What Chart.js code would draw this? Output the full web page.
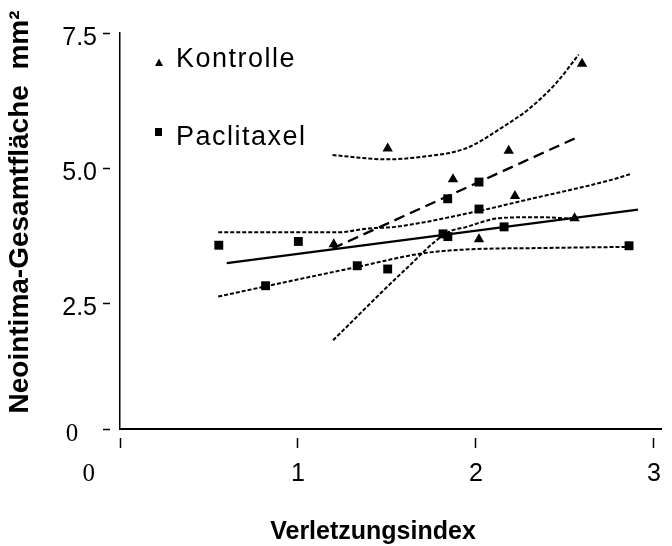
<!DOCTYPE html>
<html>
<head>
<meta charset="utf-8">
<script src="https://cdn.jsdelivr.net/npm/chart.js@4/dist/chart.umd.min.js"></script>
<style>
  html, body { margin: 0; padding: 0; background: #ffffff; }
  #wrap { width: 672px; height: 546px; }
</style>
</head>
<body>
<div id="wrap"><canvas id="c" width="672" height="546"></canvas></div>
<script>
// ---- Data ----
const seriesNames = ['Kontrolle', 'Paclitaxel'];
const xAxisTitle = 'Verletzungsindex';
const yAxisTitle = 'Neointima-Gesamtfläche  mm²';

const xTickValues = [0, 1, 2, 3];
const xTickLabels = ['0', '1', '2', '3'];
const yTickValues = [0, 2.5, 5, 7.5];
const yTickLabels = ['0', '2.5', '5.0', '7.5'];

// Kontrolle (triangles)
const kontrolleX = [1.201, 1.504, 1.871, 2.017, 2.184, 2.219, 2.554, 2.596];
const kontrolleY = [3.59, 5.36, 4.79, 3.68, 5.32, 4.48, 4.07, 6.93];

// Paclitaxel (squares)
const paclitaxelX = [0.555, 0.818, 1.002, 1.333, 1.504, 1.815, 1.842, 1.841, 2.017, 2.017, 2.158, 2.860];
const paclitaxelY = [3.57, 2.82, 3.64, 3.19, 3.13, 3.78, 3.73, 4.43, 4.74, 4.24, 3.91, 3.56];

// Regression lines
const kontrolleFitX = [1.194, 2.577];
const kontrolleFitY = [3.51, 5.58];
const paclitaxelFitX = [0.60, 2.91];
const paclitaxelFitY = [3.24, 4.23];

// Confidence bands
const kontrolleUpperX = [1.194, 1.50, 1.70, 1.94, 2.17, 2.30, 2.45, 2.577];
const kontrolleUpperY = [5.24, 5.16, 5.21, 5.36, 5.80, 6.10, 6.57, 7.10];
const kontrolleLowerX = [1.197, 1.60, 1.837, 1.947, 2.13, 2.34, 2.55];
const kontrolleLowerY = [1.81, 3.11, 3.80, 3.91, 4.07, 4.09, 4.06];

const paclitaxelUpperX = [0.552, 1.23, 1.39, 1.544, 2.01, 2.27, 2.76, 2.87];
const paclitaxelUpperY = [3.81, 3.81, 3.88, 3.91, 4.20, 4.40, 4.78, 4.89];
const paclitaxelLowerX = [0.552, 0.82, 1.335, 1.70, 1.94, 2.41, 2.86];
const paclitaxelLowerY = [2.62, 2.81, 3.17, 3.42, 3.49, 3.52, 3.54];

// ---- Helpers ----
const X_MIN = 0, X_MAX = 3.045;
const Y_MIN = 0.167, Y_MAX = 7.5;   // broken axis: "0" label sits at the axis line
const pts = (xs, ys) => xs.map((x, i) => ({ x: x, y: ys[i] }));
const SANS = '"Liberation Sans", Arial, sans-serif';
const SERIF = '"Liberation Serif", "Times New Roman", serif';

function lineDs(xs, ys, dash, width, smooth) {
  return {
    type: 'scatter',
    data: pts(xs, ys),
    showLine: true,
    borderColor: '#000',
    backgroundColor: '#000',
    borderWidth: width,
    borderDash: dash,
    pointRadius: 0,
    pointHoverRadius: 0,
    tension: smooth ? 0.4 : 0,
    cubicInterpolationMode: smooth ? 'monotone' : 'default',
    fill: false
  };
}

const overlayPlugin = {
  id: 'overlay',
  afterDraw(chart) {
    const ctx = chart.ctx;
    ctx.save();
    ctx.fillStyle = '#000';
    // legend inside plot
    ctx.font = '27px ' + SANS;
    ctx.textBaseline = 'alphabetic';
    ctx.textAlign = 'left';
    try { ctx.letterSpacing = '1.5px'; } catch (e) {}
    ctx.fillText(seriesNames[0], 176, 67);
    ctx.fillText(seriesNames[1], 176, 145);
    try { ctx.letterSpacing = '0px'; } catch (e) {}
    // triangle marker
    ctx.beginPath();
    ctx.moveTo(159, 58.5);
    ctx.lineTo(163, 66);
    ctx.lineTo(155, 66);
    ctx.closePath();
    ctx.fill();
    // square marker
    ctx.fillRect(155, 128, 7, 8);

    // y axis title
    ctx.save();
    ctx.translate(28, 212);
    ctx.rotate(-Math.PI / 2);
    ctx.font = 'bold 28px ' + SANS;
    ctx.textAlign = 'center';
    ctx.textBaseline = 'alphabetic';
    ctx.fillText(yAxisTitle, 0, 0);
    ctx.restore();

    // x axis title
    ctx.font = 'bold 25px ' + SANS;
    ctx.textAlign = 'center';
    ctx.textBaseline = 'alphabetic';
    ctx.fillText(xAxisTitle, 373, 539);
    ctx.restore();
  }
};

const chart = new Chart(document.getElementById('c'), {
  type: 'scatter',
  data: {
    datasets: [
      {
        label: seriesNames[0],
        data: pts(kontrolleX, kontrolleY),
        pointStyle: 'triangle',
        pointRadius: 6,
        pointHoverRadius: 6,
        backgroundColor: '#000',
        borderColor: '#000',
        borderWidth: 0
      },
      {
        label: seriesNames[1],
        data: pts(paclitaxelX, paclitaxelY),
        pointStyle: 'rect',
        pointRadius: 6.3,
        pointHoverRadius: 6.3,
        backgroundColor: '#000',
        borderColor: '#000',
        borderWidth: 0
      },
      lineDs(paclitaxelFitX, paclitaxelFitY, [], 2.3, false),
      lineDs(kontrolleFitX, kontrolleFitY, [11, 6], 2.3, false),
      lineDs(kontrolleUpperX, kontrolleUpperY, [4, 2], 2, true),
      lineDs(kontrolleLowerX, kontrolleLowerY, [4, 2], 2, true),
      lineDs(paclitaxelUpperX, paclitaxelUpperY, [4, 2], 2, true),
      lineDs(paclitaxelLowerX, paclitaxelLowerY, [4, 2], 2, true)
    ]
  },
  options: {
    responsive: false,
    animation: false,
    events: [],
    layout: { padding: { top: 33, left: 0, right: 0, bottom: 0 } },
    plugins: {
      legend: { display: false },
      tooltip: { enabled: false },
      title: { display: false }
    },
    scales: {
      x: {
        type: 'linear',
        position: 'bottom',
        min: X_MIN,
        max: X_MAX,
        afterBuildTicks(scale) {
          scale.ticks = xTickValues.map(v => ({ value: v }));
        },
        afterFit(scale) { scale.height = 117; },
        ticks: {
          autoSkip: false,
          maxRotation: 0,
          padding: 11,
          color: '#000',
          font: (c) => (c.tick && c.tick.value === 0)
            ? { family: SERIF, size: 25 }
            : { family: SANS, size: 25 },
          callback: (v, i) => (i === 0 ? xTickLabels[i] + '          ' : xTickLabels[i])
        },
        border: { display: true, color: '#000', width: 2 },
        grid: {
          display: true,
          drawOnChartArea: false,
          drawTicks: true,
          tickLength: 19,
          tickColor: '#000',
          tickWidth: 1.5,
          tickBorderDash: [11, 8],
          tickBorderDashOffset: 11
        },
        title: { display: false }
      },
      y: {
        type: 'linear',
        position: 'left',
        min: Y_MIN,
        max: Y_MAX,
        afterBuildTicks(scale) {
          scale.ticks = yTickValues.map(v => ({ value: Math.max(v, Y_MIN) }));
        },
        afterFit(scale) { scale.width = 120; },
        ticks: {
          autoSkip: false,
          padding: 6,
          labelOffset: 5,
          color: '#000',
          font: (c) => (c.tick && c.tick.value <= Y_MIN + 1e-9)
            ? { family: SERIF, size: 25 }
            : { family: SANS, size: 25 },
          callback: (v, i) => (i === 0 ? yTickLabels[i] + '   ' : yTickLabels[i])
        },
        border: { display: true, color: '#000', width: 1.5 },
        grid: {
          display: true,
          drawOnChartArea: false,
          drawTicks: true,
          tickLength: 17,
          tickColor: '#000',
          tickWidth: 1.5,
          tickBorderDash: [7, 20],
          tickBorderDashOffset: 0
        },
        title: { display: false }
      }
    }
  },
  plugins: [overlayPlugin]
});
</script>
</body>
</html>
